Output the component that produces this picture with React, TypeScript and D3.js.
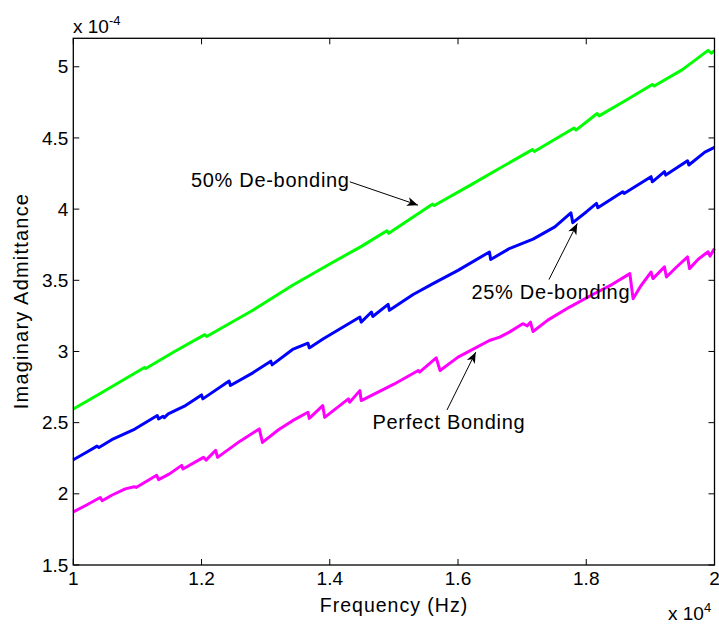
import React from 'react'
import * as d3 from 'd3'

// frequency in units of 1e4 Hz, admittance in units of 1e-4
const freqGreen = [1.000, 1.040, 1.111, 1.113, 1.160, 1.205, 1.208, 1.280, 1.342, 1.400, 1.450, 1.489, 1.492, 1.560, 1.563, 1.620, 1.665, 1.716, 1.719, 1.781, 1.784, 1.817, 1.820, 1.860, 1.903, 1.906, 1.950, 1.990, 1.995, 2.000]
const valGreen = [2.596, 2.700, 2.887, 2.880, 3.005, 3.118, 3.105, 3.290, 3.465, 3.615, 3.740, 3.848, 3.830, 4.035, 4.025, 4.170, 4.287, 4.418, 4.405, 4.570, 4.555, 4.672, 4.655, 4.760, 4.876, 4.865, 4.980, 5.115, 5.095, 5.113]

const freqBlue = [1.000, 1.020, 1.037, 1.040, 1.060, 1.096, 1.131, 1.133, 1.140, 1.142, 1.148, 1.175, 1.200, 1.202, 1.243, 1.245, 1.280, 1.308, 1.310, 1.342, 1.366, 1.368, 1.390, 1.447, 1.449, 1.465, 1.467, 1.491, 1.493, 1.530, 1.561, 1.600, 1.649, 1.651, 1.680, 1.717, 1.751, 1.776, 1.779, 1.800, 1.816, 1.818, 1.857, 1.859, 1.901, 1.903, 1.922, 1.924, 1.958, 1.960, 1.985, 2.000]
const valBlue = [2.239, 2.290, 2.335, 2.325, 2.380, 2.455, 2.550, 2.526, 2.545, 2.535, 2.562, 2.620, 2.695, 2.667, 2.792, 2.761, 2.850, 2.932, 2.906, 3.014, 3.058, 3.025, 3.089, 3.242, 3.206, 3.277, 3.246, 3.331, 3.289, 3.400, 3.477, 3.570, 3.699, 3.646, 3.723, 3.789, 3.875, 3.974, 3.905, 3.980, 4.040, 4.009, 4.122, 4.110, 4.228, 4.192, 4.263, 4.239, 4.340, 4.310, 4.400, 4.434]

const freqMagenta = [1.000, 1.020, 1.042, 1.045, 1.060, 1.081, 1.095, 1.098, 1.130, 1.133, 1.150, 1.169, 1.171, 1.203, 1.207, 1.222, 1.225, 1.260, 1.290, 1.295, 1.320, 1.342, 1.366, 1.368, 1.389, 1.392, 1.410, 1.429, 1.431, 1.447, 1.449, 1.500, 1.538, 1.540, 1.566, 1.572, 1.600, 1.649, 1.665, 1.680, 1.701, 1.708, 1.713, 1.717, 1.740, 1.774, 1.810, 1.840, 1.868, 1.873, 1.885, 1.901, 1.904, 1.922, 1.925, 1.940, 1.958, 1.961, 1.975, 1.990, 1.993, 2.000]
const valMagenta = [1.873, 1.920, 1.974, 1.951, 1.990, 2.035, 2.050, 2.045, 2.130, 2.100, 2.140, 2.200, 2.174, 2.256, 2.237, 2.305, 2.256, 2.370, 2.456, 2.361, 2.450, 2.514, 2.573, 2.530, 2.620, 2.537, 2.600, 2.667, 2.643, 2.725, 2.655, 2.770, 2.866, 2.855, 2.955, 2.866, 2.960, 3.077, 3.101, 3.136, 3.195, 3.180, 3.206, 3.140, 3.220, 3.312, 3.400, 3.470, 3.547, 3.371, 3.460, 3.558, 3.512, 3.594, 3.523, 3.590, 3.664, 3.582, 3.650, 3.700, 3.670, 3.723]

const xTicks = [1, 1.2, 1.4, 1.6, 1.8, 2]
const yTicks = [1.5, 2, 2.5, 3, 3.5, 4, 4.5, 5]

const series = [
  { f: freqGreen, v: valGreen, color: '#00ff00' },
  { f: freqBlue, v: valBlue, color: '#0000ff' },
  { f: freqMagenta, v: valMagenta, color: '#ff00ff' },
]

// annotation text anchor and arrow, in data units
const notes = [
  { text: '50% De-bonding', tx: 1.1834, ty: 4.157, ax: 1.4312, ay: 4.192, bx: 1.5376, by: 4.028 },
  { text: '25% De-bonding', tx: 1.6209, ty: 3.366, ax: 1.7418, ay: 3.505, bx: 1.786, by: 3.899 },
  { text: 'Perfect Bonding', tx: 1.4666, ty: 2.456, ax: 1.5828, ay: 2.589, bx: 1.6276, by: 2.995 },
]

const W = 719
const H = 625
const left = 73.3
const right = 714.5
const top = 38.3
const bottom = 565

export default function App() {
  const x = d3.scaleLinear().domain([1, 2]).range([left, right])
  const y = d3.scaleLinear().domain([1.5, 5.2]).range([bottom, top])
  const font = 'Liberation Sans, Arial, sans-serif'

  const paths = series.map(s => {
    const pts: [number, number][] = s.f.map((f, i) => [x(f), y(s.v[i])])
    return d3.line()(pts)
  })

  const arrowHead = (x1: number, y1: number, x2: number, y2: number) => {
    const ang = Math.atan2(y2 - y1, x2 - x1)
    const len = 11, wid = 4.5, back = 8
    const p = (d: number, o: number) => [
      x2 - d * Math.cos(ang) - o * Math.sin(ang),
      y2 - d * Math.sin(ang) + o * Math.cos(ang),
    ]
    const a = p(len, wid), b = p(back, 0), c = p(len, -wid)
    return `M${x2},${y2}L${a[0]},${a[1]}L${b[0]},${b[1]}L${c[0]},${c[1]}Z`
  }

  return (
    <svg width={W} height={H} style={{ position: 'absolute', left: 0, top: 0, background: '#fff' }} fontFamily={font}>
      <rect x={0} y={0} width={W} height={H} fill="#fff" />
      {paths.map((d, i) => (
        <path key={i} d={d || ''} fill="none" stroke={series[i].color} strokeWidth={3} strokeLinejoin="round" />
      ))}
      <rect x={left} y={top} width={right - left} height={bottom - top} fill="none" stroke="#000" strokeWidth={1.3} />
      {xTicks.map(t => (
        <g key={'x' + t}>
          <line x1={x(t)} x2={x(t)} y1={bottom} y2={bottom - 6} stroke="#000" />
          <line x1={x(t)} x2={x(t)} y1={top} y2={top + 6} stroke="#000" />
          <text x={x(t)} y={bottom + 20} textAnchor="middle" fontSize={19}>{String(t)}</text>
        </g>
      ))}
      {yTicks.map(t => (
        <g key={'y' + t}>
          <line x1={left} x2={left + 6} y1={y(t)} y2={y(t)} stroke="#000" />
          <line x1={right} x2={right - 6} y1={y(t)} y2={y(t)} stroke="#000" />
          <text x={left - 5} y={y(t)} dy="0.35em" textAnchor="end" fontSize={19}>{String(t)}</text>
        </g>
      ))}
      <text x={73} y={33} fontSize={19}>x 10<tspan dy={-8} fontSize={13}>-4</tspan></text>
      <text x={668} y={620} fontSize={19}>x 10<tspan dy={-8} fontSize={13}>4</tspan></text>
      <text x={394} y={612} textAnchor="middle" fontSize={19.5} letterSpacing={1}>Frequency (Hz)</text>
      <text transform="translate(28,301) rotate(-90)" textAnchor="middle" fontSize={20} letterSpacing={1.2}>Imaginary Admittance</text>
      {notes.map(n => (
        <g key={n.text}>
          <text x={x(n.tx)} y={y(n.ty)} fontSize={20} letterSpacing={0.7}>{n.text}</text>
          <line x1={x(n.ax)} y1={y(n.ay)} x2={x(n.bx)} y2={y(n.by)} stroke="#000" strokeWidth={1} />
          <path d={arrowHead(x(n.ax), y(n.ay), x(n.bx), y(n.by))} fill="#000" />
        </g>
      ))}
    </svg>
  )
}
